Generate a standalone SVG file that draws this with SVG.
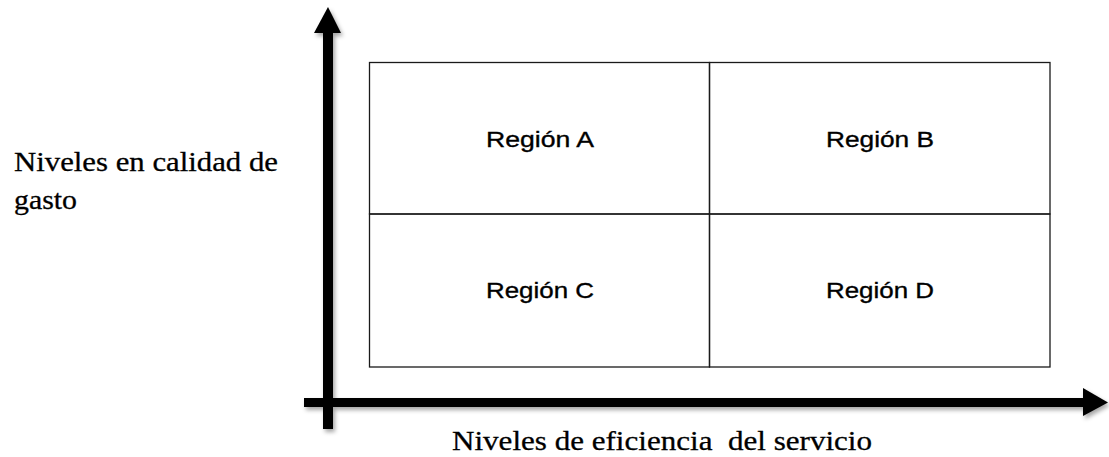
<svg xmlns="http://www.w3.org/2000/svg" width="1109" height="457" viewBox="0 0 1109 457">
  <style>
    .cell { fill: none; stroke: #1a1a1a; stroke-width: 1.3; }
    .reg { font-family: "Liberation Sans", Arial, sans-serif; font-size: 22px; fill: #000; stroke: #000; stroke-width: 0.35; }
    .lab { font-family: "Liberation Serif", "Times New Roman", serif; font-size: 28px; fill: #000; stroke: #000; stroke-width: 0.3; white-space: pre; }
    .axis { fill: #000; }
  </style>
  <defs>
    <filter id="sh" x="-10%" y="-10%" width="130%" height="130%">
      <feDropShadow dx="2" dy="3" stdDeviation="2" flood-color="#000" flood-opacity="0.35"/>
    </filter>
  </defs>
  <rect width="1109" height="457" fill="#fff"/>

  <g id="connectors" filter="url(#sh)">
    <g id="y-axis" class="axis">
      <rect x="323" y="32" width="10" height="397"/>
      <polygon points="314,33 328,7 341,33"/>
    </g>
    <g id="x-axis" class="axis">
      <rect x="304" y="398" width="780" height="9"/>
      <polygon points="1083,388 1108,402.5 1083,416"/>
    </g>
  </g>

  <g id="region-a">
    <rect class="cell" x="369.5" y="62.5" width="340" height="151.5"/>
    <text class="reg" x="486" y="147" textLength="108" lengthAdjust="spacingAndGlyphs">Región A</text>
  </g>
  <g id="region-b">
    <rect class="cell" x="709.5" y="62.5" width="340.5" height="151.5"/>
    <text class="reg" x="826" y="147" textLength="108" lengthAdjust="spacingAndGlyphs">Región B</text>
  </g>
  <g id="region-c">
    <rect class="cell" x="369.5" y="214" width="340" height="153"/>
    <text class="reg" x="486" y="298" textLength="108" lengthAdjust="spacingAndGlyphs">Región C</text>
  </g>
  <g id="region-d">
    <rect class="cell" x="709.5" y="214" width="340.5" height="153"/>
    <text class="reg" x="826" y="298" textLength="108" lengthAdjust="spacingAndGlyphs">Región D</text>
  </g>

  <g id="y-label">
    <text class="lab" x="14" y="171" textLength="264" lengthAdjust="spacingAndGlyphs">Niveles en calidad de</text>
    <text class="lab" x="14" y="209" textLength="63" lengthAdjust="spacingAndGlyphs">gasto</text>
  </g>
  <g id="x-label">
    <text class="lab" x="452" y="450" textLength="420" lengthAdjust="spacingAndGlyphs" xml:space="preserve">Niveles de eficiencia  del servicio</text>
  </g>
</svg>
